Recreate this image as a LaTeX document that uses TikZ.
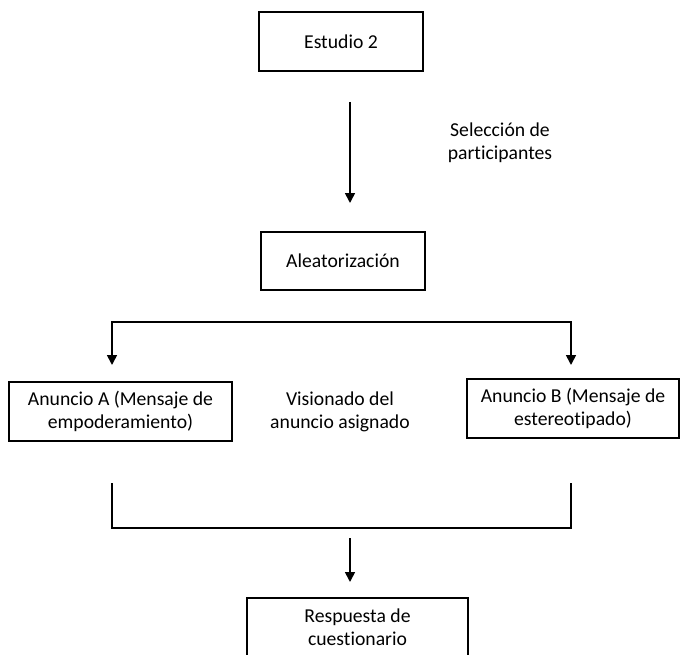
\documentclass[tikz,border=0pt]{standalone}
\usepackage{fontspec}
\setmainfont{Carlito}[Ligatures=NoCommon]
\usetikzlibrary{arrows.meta,positioning}

\begin{document}
\begin{tikzpicture}[
    caja/.style={draw, line width=0.9pt, minimum height=1.475cm, align=center, font=\fontsize{14}{16.5}\selectfont},
    texto/.style={align=center, font=\fontsize{14}{16.5}\selectfont},
    flecha/.style={-{Triangle[width=7pt,length=7pt]}, line width=1.2pt},
    flechas/.style={{Triangle[width=7pt,length=7pt]}-{Triangle[width=7pt,length=7pt]}, line width=1.2pt},
    linea/.style={line width=1.2pt}]
      \useasboundingbox (0,0) rectangle (17.025,-16.375);
      \clip (0,0) rectangle (17.025,-16.375);

      \node[caja, minimum width=4.1cm] (e) at (8.525,-1.0375) {Estudio 2};
      \node[texto] (s) at (12.5,-3.56) {Selección de\\participantes};
      \node[caja, minimum width=4.1cm, minimum height=1.45cm] (al) at (8.575,-6.525) {Aleatorización};
      \node[caja, minimum width=5.575cm] (aa) at (3.0125,-10.2875) {Anuncio A (Mensaje de\\empoderamiento)};
      \node[texto] (v) at (8.5,-10.3) {Visionado del\\anuncio asignado};
      \node[caja, minimum width=5.3cm] (ab) at (14.325,-10.2125) {Anuncio B (Mensaje de\\estereotipado)};
      \node[caja, minimum width=5.525cm] (rc) at (8.9375,-15.6875) {Respuesta de\\cuestionario};

      % seleccion
      \coordinate (s1) at (8.75,-2.55);
      \coordinate (s2) at (8.75,-5.075);
      \draw[flecha] (s1) -- (s2);

      % reparto a los anuncios
      \coordinate (ka) at (2.8,-8.05);
      \coordinate (kb) at (14.275,-8.05);
      \coordinate (fa) at (2.8,-9.125);
      \coordinate (fb) at (14.275,-9.125);
      \draw[flechas] (fa) -- (ka) -- (kb) -- (fb);

      % union
      \coordinate (ca) at (2.8,-12.075);
      \coordinate (cb) at (2.8,-13.2);
      \coordinate (cc) at (14.275,-13.2);
      \coordinate (cd) at (14.275,-12.075);
      \draw[linea] (ca) -- (cb) -- (cc) -- (cd);

      \coordinate (r1) at (8.75,-13.45);
      \coordinate (r2) at (8.75,-14.55);
      \draw[flecha] (r1) -- (r2);
    \end{tikzpicture}
\end{document}
